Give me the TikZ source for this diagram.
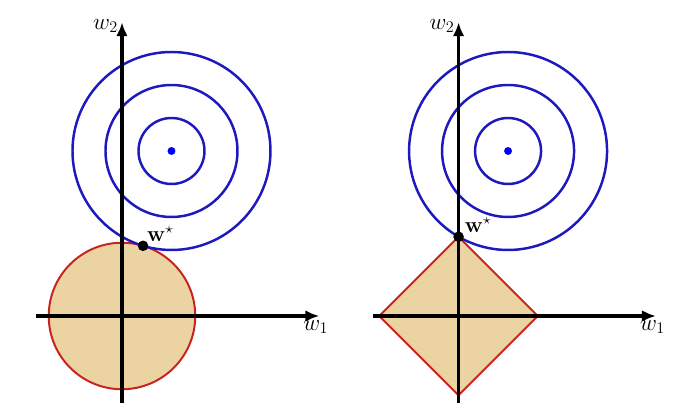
\RequirePackage{fix-cm}
\documentclass[tikz,border=0pt]{standalone}
\usepackage{amsmath}
\usetikzlibrary{calc,arrows.meta,positioning}
\definecolor{ballfill}{RGB}{235,212,162}
\definecolor{ballred}{RGB}{200,35,30}
\definecolor{contblue}{RGB}{30,25,190}
\def\contours(#1){\foreach \r in {1,2,3} {\draw[line width=0.75mm, color=contblue] (#1) circle (\r);}
	\fill[blue] (#1) circle (0.12);}
\def\axes(#1)(#2){\coordinate (#2xl) at ($(#1)+(-2.6,0)$); \coordinate (#2xr) at ($(#1)+(5.98,0)$);
	\coordinate (#2yb) at ($(#1)+(0,-2.65)$); \coordinate (#2yt) at ($(#1)+(0,8.9)$);
	\draw[line width=1mm, -{Latex[length=12pt,width=10pt]}] (#2xl) -- (#2xr);
	\draw[line width=1mm, -{Latex[length=12pt,width=10pt]}] (#2yb) -- (#2yt);
	\node[left=0pt of #2yt, yshift=-3pt] (#2w2) {\fontsize{20}{24}\selectfont$w_2$};
	\node[below=0pt of #2xr, xshift=-3pt] (#2w1) {\fontsize{20}{24}\selectfont$w_1$};}

\begin{document}
\begin{tikzpicture}
		%%%%% START %%%%%
		\useasboundingbox (-3.697,-3.152) rectangle (16.88,9.576);
		
		\coordinate (oL) at (0,0);
		\coordinate (cL) at (1.5,5);
		\coordinate (oR) at (10.2,0);
		\coordinate (cR) at (11.7,5);
		
		% left: l2 ball
		\draw[line width=0.6mm, color=ballred, fill=ballfill] (oL) circle (2.2202);
		\contours(cL)
		\axes(oL)(L)
		\coordinate (sL) at ($(oL)!2.2202cm!(cL)$);
		\fill[black] (sL) circle (0.16);
		\node[above right=0pt of sL] (starL) {\fontsize{19}{22}\selectfont$\mathbf{w}^{\star}$};
		
		% right: l1 ball
		\draw[line width=0.6mm, color=ballred, fill=ballfill, line join=miter]
			($(oR)+(0,2.4019)$) -- ($(oR)+(2.4019,0)$) -- ($(oR)+(0,-2.4019)$) -- ($(oR)+(-2.4019,0)$) -- cycle;
		\contours(cR)
		\axes(oR)(R)
		\coordinate (sR) at ($(oR)+(0,2.4019)$);
		\fill[black] (sR) circle (0.16);
		\node[above right=0pt of sR, xshift=2pt] (starR) {\fontsize{19}{22}\selectfont$\mathbf{w}^{\star}$};
		
		%%%%% END %%%%%
\end{tikzpicture}
\end{document}
